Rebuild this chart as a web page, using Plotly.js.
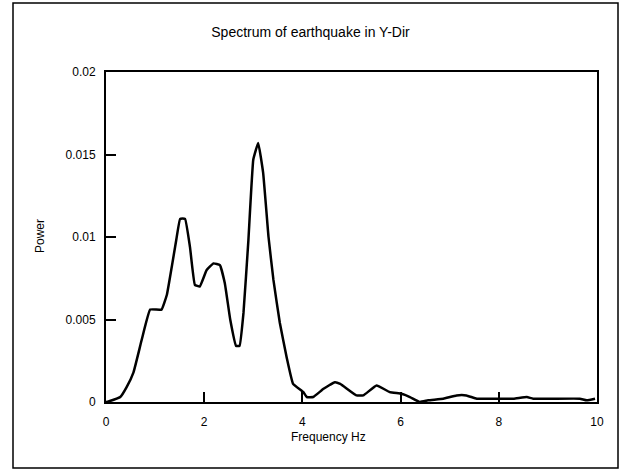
<!DOCTYPE html>
<html><head><meta charset="utf-8">
<script src="https://cdn.plot.ly/plotly-3.0.1.min.js"></script>
<style>html,body{margin:0;padding:0;background:#fff;}#chart{width:621px;height:471px;}</style>
</head><body><div id="chart"></div>
<script>
const freq = [0,0.05,0.29,0.42,0.56,0.73,0.90,1.13,1.24,1.34,1.43,1.51,1.61,1.71,1.81,1.91,2.05,2.19,2.32,2.42,2.53,2.65,2.72,2.80,2.90,3.00,3.10,3.20,3.31,3.41,3.54,3.68,3.81,4.02,4.09,4.22,4.43,4.66,4.77,5.10,5.24,5.51,5.78,6.02,6.19,6.39,6.56,6.87,7.14,7.34,7.55,7.82,8.30,8.57,8.70,9.65,9.79,9.96];
const power = [0,0.00003,0.0003,0.0009,0.0018,0.0038,0.0056,0.0056,0.0065,0.0082,0.0098,0.0111,0.0111,0.0094,0.0071,0.0070,0.0080,0.0084,0.0083,0.0072,0.0050,0.0034,0.0034,0.0054,0.0098,0.0147,0.0157,0.0139,0.0100,0.0074,0.0048,0.0027,0.0011,0.0006,0.0003,0.0003,0.0008,0.0012,0.0011,0.0004,0.0004,0.0010,0.0006,0.0005,0.0003,0.0000,0.0001,0.0002,0.0004,0.0004,0.0002,0.0002,0.0002,0.0003,0.0002,0.0002,0.0001,0.0002];
const xTickVals = [0,2,4,6,8,10];
const xTickText = ["0","2","4","6","8","10"];
const yTickVals = [0,0.005,0.01,0.015,0.02];
const yTickText = ["0","0.005","0.01","0.015","0.02"];
const titleText = "Spectrum of earthquake in Y-Dir";
const xLabel = "Frequency Hz";
const yLabel = "Power";

const W=621,H=471,L=106,R=24,T=72,B=69;
const pw=W-L-R, ph=H-T-B;
const px = v => (v-L)/pw;
const py = v => 1-(v-T)/ph;
const font = "Liberation Sans, Arial, sans-serif";

Plotly.newPlot('chart',[{
  x:freq,y:power,type:'scatter',mode:'lines',
  line:{color:'#000',width:2.5,shape:'spline',smoothing:0.3},
  hoverinfo:'skip'
}],{
  width:W,height:H,
  margin:{l:L,r:R,t:T,b:B,pad:0},
  paper_bgcolor:'#fff',plot_bgcolor:'#fff',
  showlegend:false,
  font:{family:font,color:'#000',size:12},
  title:{text:titleText,font:{family:font,size:14,color:'#000'},x:0.5,xref:'container',y:1-32/H,yref:'container',yanchor:'middle'},
  xaxis:{range:[0,10],tickvals:xTickVals,ticktext:xTickText,ticks:'inside',ticklen:10,tickwidth:2,tickcolor:'#000',
    showline:true,linecolor:'#000',linewidth:2,mirror:true,showgrid:false,zeroline:false,
    tickfont:{family:font,size:12,color:'#000'},automargin:false,ticklabelstandoff:8},
  yaxis:{range:[0,0.02],tickvals:yTickVals,ticktext:yTickText,ticks:'inside',ticklen:10,tickwidth:2,tickcolor:'#000',
    showline:true,linecolor:'#000',linewidth:2,mirror:true,showgrid:false,zeroline:false,
    tickfont:{family:font,size:12,color:'#000'},automargin:false,ticklabelstandoff:6},
  annotations:[
    {text:xLabel,xref:'paper',yref:'paper',x:px(328),y:py(437),xanchor:'center',yanchor:'middle',showarrow:false,font:{family:font,size:12,color:'#000'}},
    {text:yLabel,xref:'paper',yref:'paper',x:px(40),y:py(236),xanchor:'center',yanchor:'middle',textangle:-90,showarrow:false,font:{family:font,size:12,color:'#000'}}
  ],
  shapes:[
    {type:'rect',xref:'paper',yref:'paper',x0:px(13),x1:px(618),y0:py(468),y1:py(3),line:{color:'#000',width:1.5},layer:'above'}
  ]
},{staticPlot:true,displayModeBar:false});
</script>
</body></html>
